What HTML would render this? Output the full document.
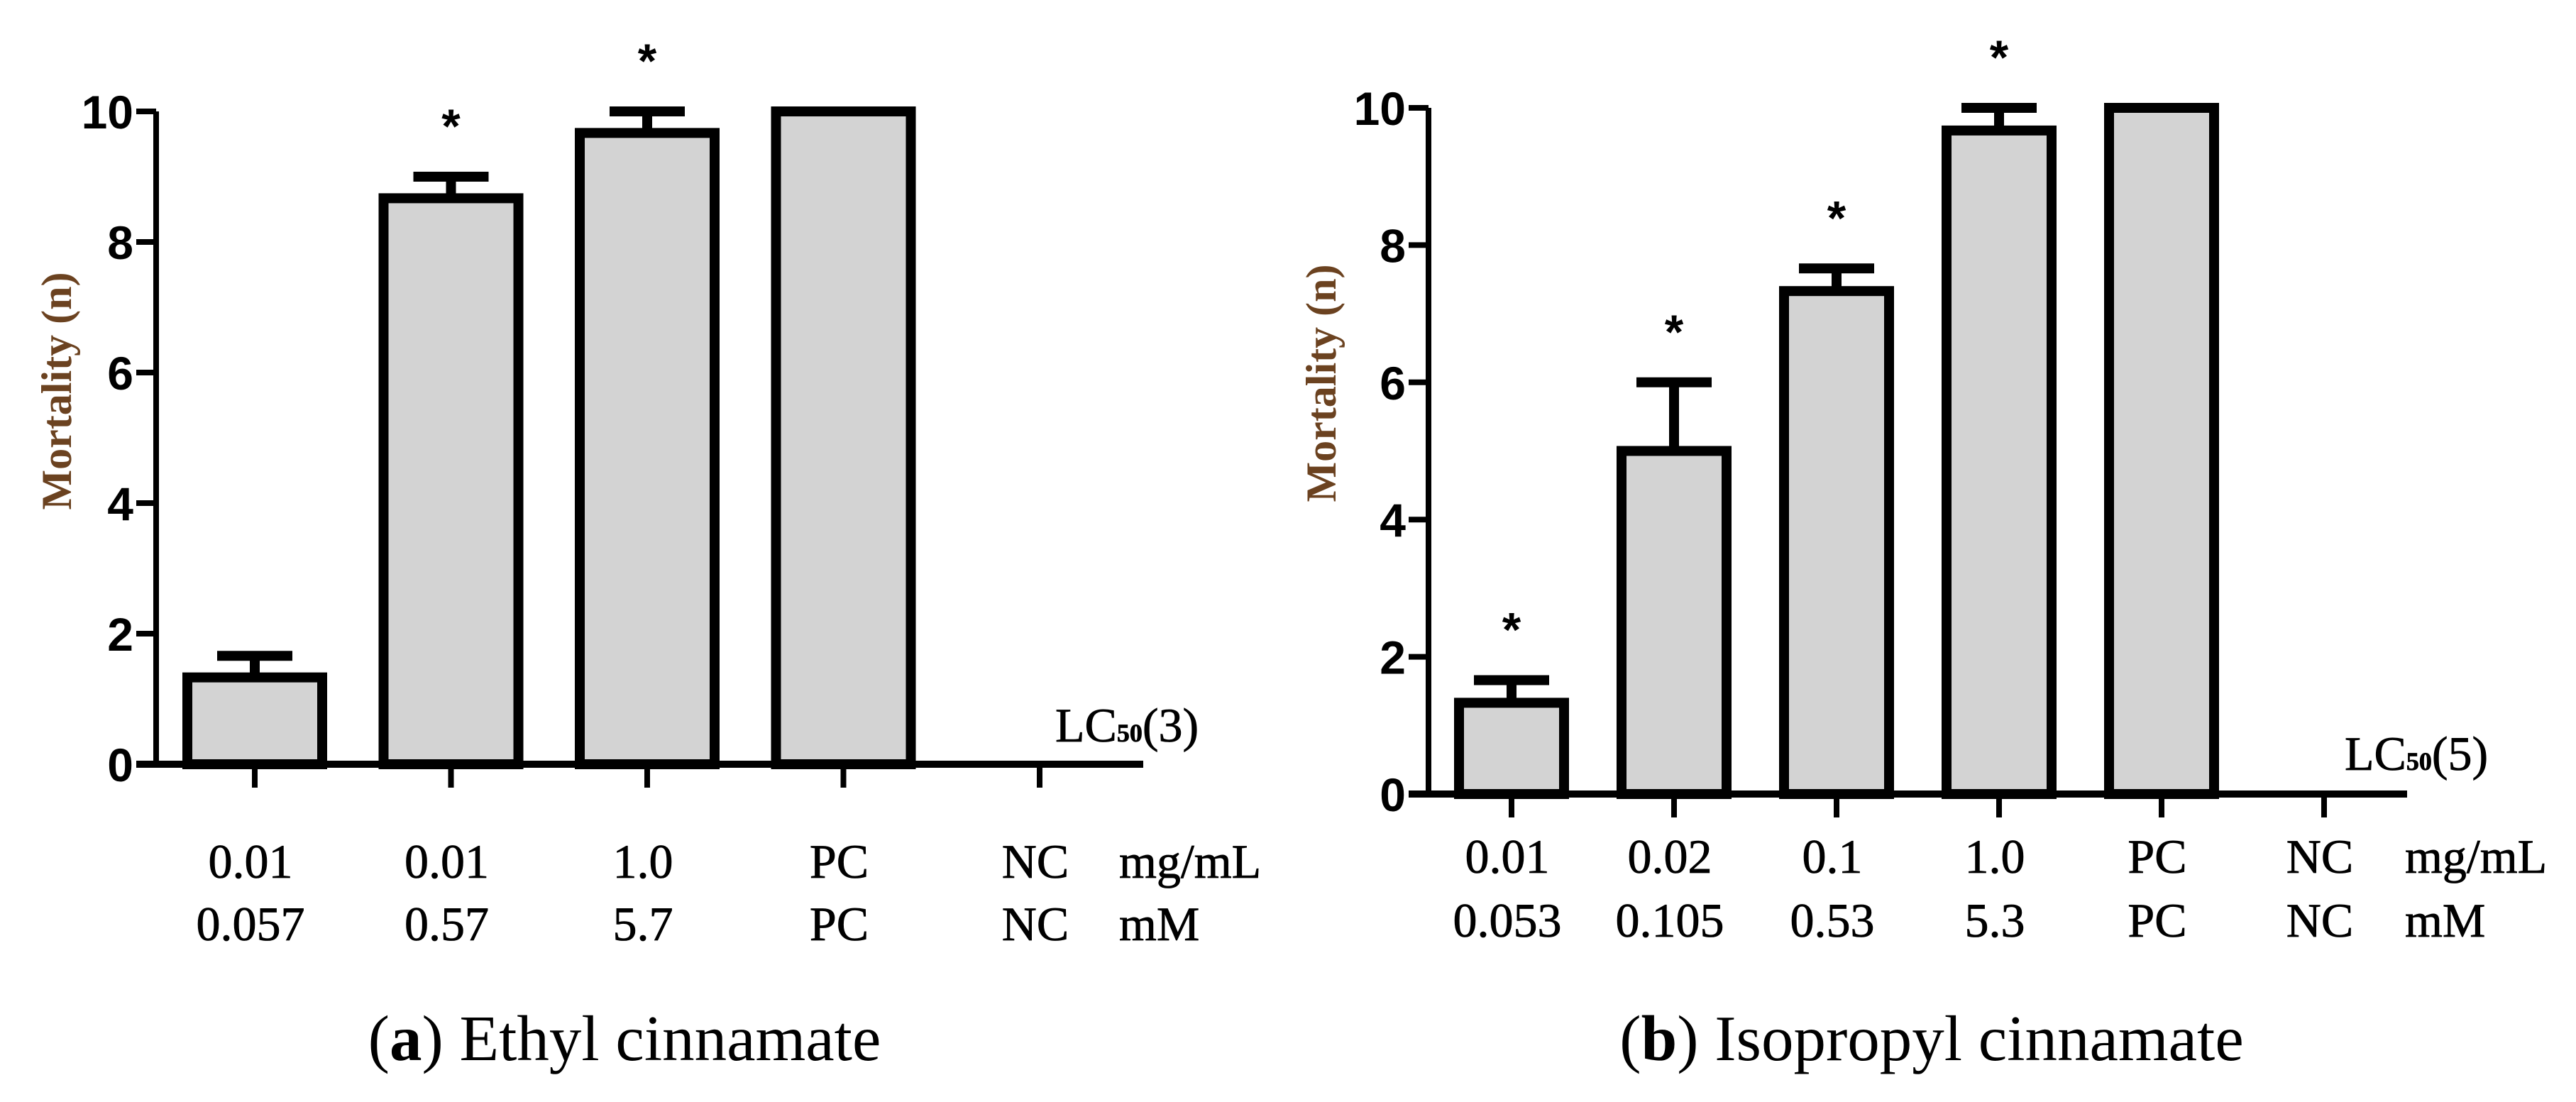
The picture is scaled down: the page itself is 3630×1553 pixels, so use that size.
<!DOCTYPE html>
<html><head><meta charset="utf-8">
<style>
html,body{margin:0;padding:0;background:#fff;}
svg{display:block;}
.tick{font-family:"Liberation Sans",sans-serif;font-weight:bold;font-size:66px;fill:#000;}
.cat{font-family:"Liberation Serif",serif;font-size:68px;fill:#000;stroke:#000;stroke-width:0.8px;}
.cap{font-family:"Liberation Serif",serif;font-size:91px;fill:#000;}
.ylab{font-family:"Liberation Serif",serif;font-weight:bold;font-size:60px;fill:#6b4220;}
.star{font-family:"Liberation Sans",sans-serif;font-weight:bold;font-size:68px;fill:#000;}
</style></head>
<body>
<svg id="fig" width="3630" height="1553" viewBox="0 0 3630 1553" xmlns="http://www.w3.org/2000/svg"></svg>
<script>
// Chart A data
const catsA_mg = ["0.01","0.01","1.0","PC","NC"];
const catsA_mM = ["0.057","0.57","5.7","PC","NC"];
const valuesA = [1.33, 8.67, 9.67, 10, 0];
const errorsA = [0.33, 0.33, 0.33, 0, 0];
const starsA = [false, true, true, false, false];
// Chart B data
const catsB_mg = ["0.01","0.02","0.1","1.0","PC","NC"];
const catsB_mM = ["0.053","0.105","0.53","5.3","PC","NC"];
const valuesB = [1.33, 5.0, 7.33, 9.67, 10, 0];
const errorsB = [0.33, 1.0, 0.33, 0.33, 0, 0];
const starsB = [true, true, true, true, false, false];
const yTicks = [0, 2, 4, 6, 8, 10];

const NS = "http://www.w3.org/2000/svg";
const svg = document.getElementById("fig");
function mk(tag, attrs, parent, text) {
  const e = document.createElementNS(NS, tag);
  for (const k in attrs) e.setAttribute(k, attrs[k]);
  if (text !== undefined) e.textContent = text;
  (parent || svg).appendChild(e);
  return e;
}

function drawChart(id, o, cats1, cats2, vals, errs, stars) {
  const g = mk("g", {});
  
  
  const y = v => o.y0 - (v / 10) * (o.y0 - o.y10);
  const x = i => o.xFirst + i * o.step;
  vals.forEach((v, i) => {
    if (v <= 0) return;
    const b = mk("rect", {x: x(i) - o.bw / 2, y: y(v), width: o.bw, height: o.y0 - y(v), fill: "#d3d3d3", stroke: "#000", "stroke-width": 14}, g);
    
    
    if (errs[i] > 0) {
      const e1 = mk("line", {x1: x(i), x2: x(i), y1: y(v), y2: y(v + errs[i]), stroke: "#000", "stroke-width": 14}, g);
      
      
      const e2 = mk("line", {x1: x(i) - 53, x2: x(i) + 53, y1: y(v + errs[i]), y2: y(v + errs[i]), stroke: "#000", "stroke-width": 14}, g);
      
      
    }
    if (stars[i]) {
      const s = mk("text", {x: x(i), y: y(v + errs[i]) - 48, "text-anchor": "middle", class: "star"}, g, "*");
      
      
    }
  });
  const ya = mk("line", {x1: o.ax, x2: o.ax, y1: o.y10, y2: o.y0 + 5, stroke: "#000", "stroke-width": 8}, g);
  
  
  const xa = mk("line", {x1: o.ax - 28, x2: o.xEnd, y1: o.y0, y2: o.y0, stroke: "#000", "stroke-width": 10}, g);
  
  
  yTicks.forEach(t => {
    const tl = mk("line", {x1: o.ax - 28, x2: o.ax, y1: y(t), y2: y(t), stroke: "#000", "stroke-width": 8}, g);
    
    
    const tt = mk("text", {x: o.ax - 32, y: y(t) + 24, "text-anchor": "end", class: "tick"}, g, String(t));
    
    
  });
  cats1.forEach((c, i) => {
    const tk = mk("line", {x1: x(i), x2: x(i), y1: o.y0, y2: o.y0 + 33, stroke: "#000", "stroke-width": 8}, g);
    
    
    const l1 = mk("text", {x: x(i) - 6, y: o.row1, "text-anchor": "middle", class: "cat"}, g, c);
    
    
    const l2 = mk("text", {x: x(i) - 6, y: o.row2, "text-anchor": "middle", class: "cat"}, g, cats2[i]);
    
    
  });
  const u1 = mk("text", {x: o.unitX, y: o.row1, class: "cat"}, g, "mg/mL");
  
  
  const u2 = mk("text", {x: o.unitX, y: o.row2, class: "cat"}, g, "mM");
  
  
  const lc = mk("text", {x: o.lcX, y: o.lcY, class: "cat", "font-size": 68}, g);
  
  
  mk("tspan", {}, lc, "LC");
  mk("tspan", {"font-size": 36, "font-weight": "bold"}, lc, "50");
  mk("tspan", {}, lc, "(" + o.lcN + ")");
  const yl = mk("text", {x: o.ylX, y: o.ylY, "text-anchor": "middle", class: "ylab", transform: "rotate(-90 " + o.ylX + " " + o.ylY + ")"}, g, "Mortality (n)");
  
  
  const cp = mk("text", {x: o.capX, y: 1494, "text-anchor": "middle", class: "cap"}, g);
  
  
  mk("tspan", {}, cp, "(");
  mk("tspan", {"font-weight": "bold"}, cp, o.letter);
  mk("tspan", {}, cp, ") " + o.title);
}

drawChart("chart-ethyl-cinnamate", {ax: 220, y0: 1077, y10: 157, xFirst: 359, step: 276.5, bw: 190, xEnd: 1611,
  row1: 1237, row2: 1325, unitX: 1577, lcX: 1487, lcY: 1045, lcN: 3, ylX: 100, ylY: 551, capX: 880, letter: "a", title: "Ethyl cinnamate"},
  catsA_mg, catsA_mM, valuesA, errorsA, starsA);

drawChart("chart-isopropyl-cinnamate", {ax: 2013, y0: 1119, y10: 152, xFirst: 2130, step: 229, bw: 148, xEnd: 3392,
  row1: 1230, row2: 1320, unitX: 3389, lcX: 3304, lcY: 1085, lcN: 5, ylX: 1882, ylY: 540, capX: 2722, letter: "b", title: "Isopropyl cinnamate"},
  catsB_mg, catsB_mM, valuesB, errorsB, starsB);
</script>
</body></html>
